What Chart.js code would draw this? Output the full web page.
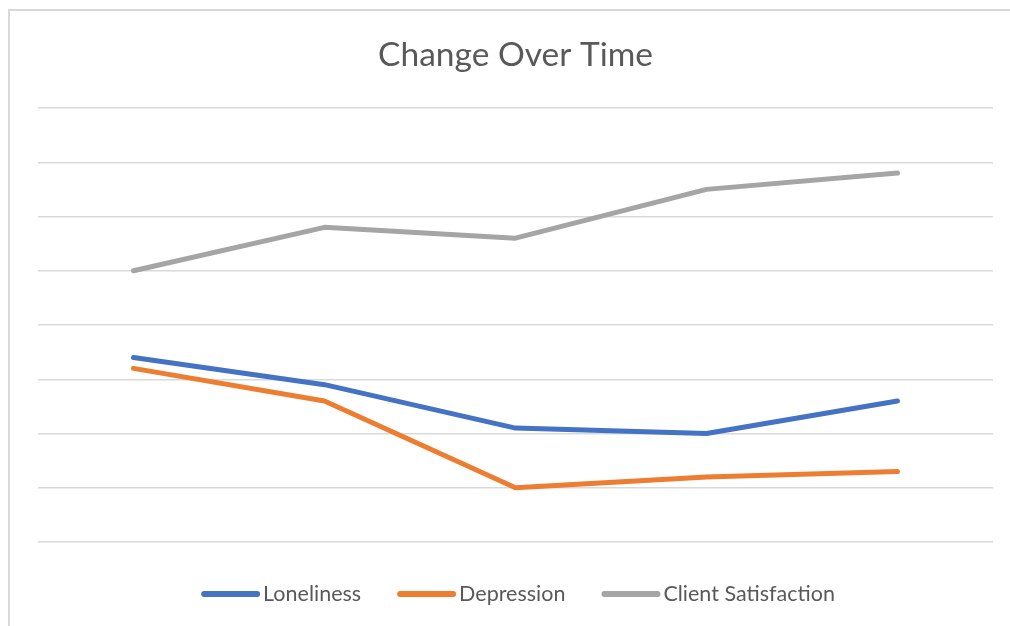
<!DOCTYPE html>
<html>
<head>
<meta charset="utf-8">
<title>Change Over Time</title>
<script src="https://cdn.jsdelivr.net/npm/chart.js@4.4.1/dist/chart.umd.min.js"></script>
<style>
  html, body { margin: 0; padding: 0; background: #fff; }
  body { width: 1010px; height: 626px; overflow: hidden; position: relative; }
  .frame {
    position: absolute; left: 8px; top: 9px; width: 1010px; height: 626px;
    border-left: 2px solid #d9d9d9; border-top: 2px solid #d9d9d9;
  }
  .wrap { position: absolute; left: 0; top: 0; width: 1010px; height: 626px; }
</style>
</head>
<body>
<div class="frame"></div>
<div class="wrap"><canvas id="chart"></canvas></div>
<script>
const periods = ['1', '2', '3', '4', '5'];
const loneliness = [3.4, 2.9, 2.1, 2.0, 2.6];
const depression = [3.2, 2.6, 1.0, 1.2, 1.3];
const satisfaction = [5.0, 5.8, 5.6, 6.5, 6.8];
const seriesNames = ['Loneliness', 'Depression', 'Client Satisfaction'];
const seriesColors = ['#4472c4', '#ed7d31', '#a5a5a5'];

const textColor = '#595959';
const fontFamily = 'Lato, "Open Sans", sans-serif';

// legend drawn by hand: short rounded line, then the name, centred under the plot
const lineLegend = {
  id: 'lineLegend',
  afterDraw(chart) {
    const ctx = chart.ctx;
    const area = chart.chartArea;
    const lineLen = 53, gapText = 6, gapItem = 39, y = 594;
    ctx.save();
    ctx.font = '21.5px ' + fontFamily;
    const items = chart.data.datasets.map(ds => ({
      label: ds.label, color: ds.borderColor, w: ctx.measureText(ds.label).width
    }));
    let total = 0;
    items.forEach((it, i) => {
      total += lineLen + gapText + it.w + (i < items.length - 1 ? gapItem : 0);
    });
    let x = (area.left + area.right) / 2 - total / 2 + 4;
    items.forEach(it => {
      ctx.strokeStyle = it.color;
      ctx.lineWidth = 6;
      ctx.lineCap = 'round';
      ctx.beginPath();
      ctx.moveTo(x, y);
      ctx.lineTo(x + lineLen, y);
      ctx.stroke();
      ctx.fillStyle = textColor;
      ctx.textBaseline = 'alphabetic';
      ctx.textAlign = 'left';
      ctx.fillText(it.label, x + lineLen + gapText, 601);
      x += lineLen + gapText + it.w + gapItem;
    });
    ctx.restore();
  }
};

const dataSets = [loneliness, depression, satisfaction].map((vals, i) => ({
  label: seriesNames[i],
  data: vals,
  borderColor: seriesColors[i],
  backgroundColor: seriesColors[i],
  borderWidth: 5,
  borderCapStyle: 'round',
  borderJoinStyle: 'round',
  pointRadius: 0,
  tension: 0,
  fill: false
}));

new Chart(document.getElementById('chart'), {
  type: 'line',
  data: { labels: periods, datasets: dataSets },
  options: {
    responsive: true,
    maintainAspectRatio: false,
    animation: false,
    layout: { padding: { left: 38, right: 17, top: 0, bottom: 84 } },
    plugins: {
      legend: { display: false },
      tooltip: { enabled: false },
      title: {
        display: true,
        text: 'Change Over Time',
        color: textColor,
        font: { family: fontFamily, size: 33.5, weight: 'normal', lineHeight: 1.2 },
        padding: { top: 35.5, bottom: 32.3 }
      }
    },
    scales: {
      x: {
        offset: true,
        grid: { display: false },
        border: { display: false },
        ticks: { display: false },
        afterFit: s => { s.height = 0; }
      },
      y: {
        min: 0,
        max: 8,
        ticks: { display: false, stepSize: 1 },
        border: { display: false },
        grid: { color: '#d9d9d9', lineWidth: 1.5, drawTicks: false },
        afterFit: s => { s.width = 0; }
      }
    }
  },
  plugins: [lineLegend]
});
</script>
</body>
</html>
